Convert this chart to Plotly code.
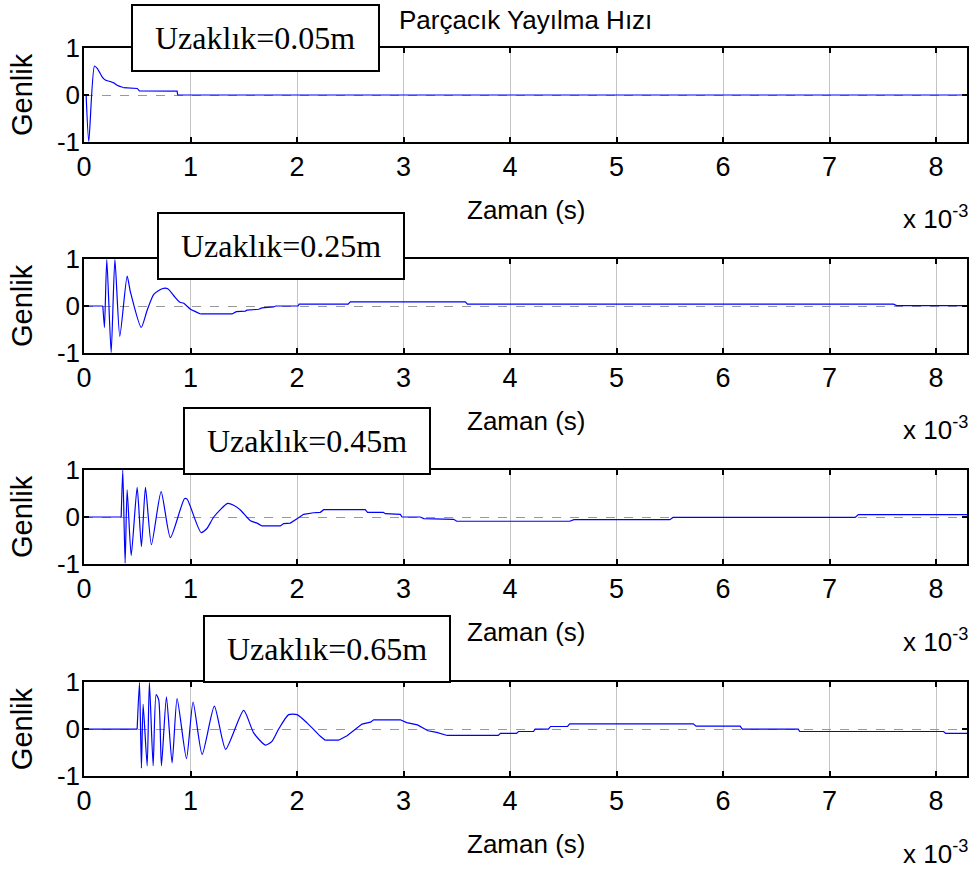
import plotly.graph_objects as go

# ---- data (time in ms, i.e. units of 1e-3 s) ----
labels = ["Uzaklık=0.05m", "Uzaklık=0.25m", "Uzaklık=0.45m", "Uzaklık=0.65m"]

t1 = [0, 0.02, 0.045, 0.098, 0.124, 0.17, 0.2, 0.25, 0.28, 0.31, 0.37, 0.5, 0.52, 0.874, 0.88, 8.29]
a1 = [0, 0, -1.0, 0.62, 0.57, 0.39, 0.32, 0.285, 0.26, 0.21, 0.16, 0.14, 0.09, 0.085, 0, 0]

t2 = [0, 0.177, 0.192, 0.214, 0.255, 0.29, 0.336, 0.405, 0.436, 0.537, 0.593, 0.655, 0.734, 0.786,
      0.843, 0.9, 0.936, 1.0, 1.046, 1.093, 1.39, 1.43, 1.515, 1.53, 1.64, 1.67, 1.78, 1.80, 2.01,
      2.02, 2.48, 2.50, 3.58, 3.60, 7.60, 7.63, 8.29]
a2 = [0, 0, -0.46, 1.0, -1.0, 1.0, -0.65, 0.64, 0.30, -0.46, -0.09, 0.25, 0.37, 0.37,
      0.22, 0.08, 0.06, -0.07, -0.12, -0.17, -0.17, -0.12, -0.11, -0.09, -0.07, -0.04, -0.02, 0.0, 0.0,
      0.04, 0.04, 0.09, 0.09, 0.04, 0.04, 0.01, 0.01]

t3 = [0, 0.349, 0.364, 0.386, 0.405, 0.443, 0.499, 0.539, 0.577, 0.633, 0.724, 0.811, 0.943, 0.968,
      1.099, 1.156, 1.218, 1.349, 1.405, 1.468, 1.562, 1.625, 1.67, 1.843, 1.874, 1.937, 2.0, 2.062,
      2.156, 2.219, 2.25, 2.64, 2.662, 2.81, 2.83, 2.97, 2.985, 3.157, 3.19, 3.47, 3.5, 4.56, 4.6,
      5.50, 5.53, 7.24, 7.27, 8.29]
a3 = [0, 0, 1.0, -0.98, 0.58, -0.82, 0.63, -0.63, 0.63, -0.59, 0.54, -0.44, 0.39, 0.38,
      -0.33, -0.24, 0.0, 0.29, 0.25, 0.15, -0.08, -0.13, -0.19, -0.19, -0.14, -0.13, -0.035, 0.056,
      0.09, 0.1, 0.155, 0.155, 0.1, 0.1, 0.07, 0.056, 0.0, 0.0, -0.035, -0.05, -0.09, -0.09, -0.056,
      -0.056, -0.01, -0.01, 0.05, 0.05]

t4 = [0, 0.499, 0.521, 0.539, 0.555, 0.593, 0.614, 0.649, 0.677, 0.702, 0.727, 0.774, 0.827, 0.874,
      0.962, 1.024, 1.109, 1.224, 1.33, 1.499, 1.593, 1.703, 1.765, 1.827, 1.921, 2.0, 2.094, 2.219,
      2.265, 2.39, 2.47, 2.547, 2.61, 2.69, 2.72, 2.97, 3.03, 3.13, 3.23, 3.31, 3.41, 3.89, 3.91, 4.06,
      4.08, 4.22, 4.235, 4.36, 4.38, 4.54, 4.56, 5.72, 5.746, 6.16, 6.18, 6.705, 6.72, 8.07, 8.09, 8.29]
a4 = [0, 0, 1.0, -0.83, 0.53, -0.78, 1.0, -0.78, 0.74, 0.62, -0.78, 0.69, -0.72, 0.65,
      -0.63, 0.58, -0.54, 0.49, -0.43, 0.4, -0.08, -0.34, -0.26, 0.0, 0.31, 0.31, 0.135, -0.15,
      -0.235, -0.235, -0.14, -0.015, 0.107, 0.15, 0.2, 0.2, 0.14, 0.09, -0.035, -0.07, -0.135, -0.135,
      -0.09, -0.09, -0.05, -0.05, 0.0, 0.0, 0.057, 0.057, 0.114, 0.114, 0.064, 0.064, 0.0, 0.0, -0.05,
      -0.05, -0.09, -0.09]

# index range of the smooth oscillating part of each record (drawn with a spline)
wave_parts = [(1, 10), (1, 19), (1, 22), (1, 28)]

x_ticks = [0, 1, 2, 3, 4, 5, 6, 7, 8]
x_ticktext = ["0", "1", "2", "3", "4", "5", "6", "7", "8"]
y_ticks = [-1, 0, 1]
y_ticktext = ["-1", "0", "1"]
x_range = [0, 8.29]
title_text = "Parçacık Yayılma Hızı"
xlabel = "Zaman (s)"
ylabel = "Genlik"
exp_text = "x 10<sup>-3</sup>"

series = [(t1, a1), (t2, a2), (t3, a3), (t4, a4)]

# ---- layout geometry (pixels) ----
W, H = 973, 874
def px(x): return x / W
def py(y): return 1 - y / H

plot_left, plot_right = 84, 967
plot_rows = [(48.3, 141.7), (259.3, 352.7), (470, 564), (682.3, 776)]
boxes = [(132, 5, 379, 71), (158, 213, 404, 279), (184, 408, 430, 474), (204, 616, 450, 682)]

fig = go.Figure()
layout = dict(width=W, height=H, autosize=False,
              margin=dict(l=0, r=0, t=0, b=0, pad=0, autoexpand=False),
              paper_bgcolor="white", plot_bgcolor="white", showlegend=False)

sans = "Liberation Sans, Arial, sans-serif"
annotations = []
shapes = []
for i, ((t, a), (top, bot)) in enumerate(zip(series, plot_rows)):
    n = "" if i == 0 else str(i + 1)
    ws, we = wave_parts[i]
    pieces = [(t[:ws + 1], a[:ws + 1], "linear"),
              (t[ws:we + 1], a[ws:we + 1], "spline"),
              (t[we:], a[we:], "linear")]
    for xs, ys, shp in pieces:
        line = dict(color="#0000ff", width=1.2, shape=shp)
        if shp == "spline":
            line["smoothing"] = 0.6
        fig.add_trace(go.Scatter(x=xs, y=ys, mode="lines", xaxis="x" + n, yaxis="y" + n,
                                 line=line, hoverinfo="skip"))
    layout["xaxis" + n] = dict(domain=[px(plot_left), px(plot_right)], range=x_range, anchor="y" + n,
                               tickvals=x_ticks, ticktext=x_ticktext, ticks="inside", ticklen=5,
                               tickwidth=1.5, tickcolor="black", mirror="allticks", showline=True,
                               linecolor="black", linewidth=1.5, showgrid=True, gridcolor="#c4c4c4",
                               gridwidth=1, zeroline=False, ticklabelstandoff=0, automargin=False,
                               tickfont=dict(family=sans, size=27, color="black"))
    layout["yaxis" + n] = dict(domain=[py(bot), py(top)], range=[-1, 1], anchor="x" + n,
                               tickvals=y_ticks, ticktext=y_ticktext, ticks="inside", ticklen=5,
                               tickwidth=1.5, tickcolor="black", mirror="allticks", showline=True,
                               linecolor="black", linewidth=1.5, showgrid=True, gridcolor="#999999",
                               griddash="dash", gridwidth=1, zeroline=False, ticklabelstandoff=-3,
                               automargin=False,
                               tickfont=dict(family=sans, size=26, color="black"))
    # axis labels
    annotations.append(dict(x=px((plot_left + plot_right) / 2), y=py(bot + 68), xref="paper", yref="paper",
                            text=xlabel, showarrow=False, xanchor="center", yanchor="middle",
                            font=dict(family=sans, size=26, color="black")))
    annotations.append(dict(x=px(22), y=py((top + bot) / 2), xref="paper", yref="paper",
                            text=ylabel, showarrow=False, textangle=-90, xanchor="center",
                            yanchor="middle", font=dict(family=sans, size=29, color="black")))
    annotations.append(dict(x=px(970), y=py(bot + 76), xref="paper", yref="paper",
                            text=exp_text, showarrow=False, xanchor="right", yanchor="middle",
                            font=dict(family=sans, size=26, color="black")))
    # distance label box
    x0, y0, x1, y1 = boxes[i]
    shapes.append(dict(type="rect", xref="paper", yref="paper", x0=px(x0), x1=px(x1), y0=py(y1), y1=py(y0),
                       line=dict(color="black", width=2), fillcolor="white", layer="above"))
    annotations.append(dict(x=px((x0 + x1) / 2), y=py((y0 + y1) / 2), xref="paper", yref="paper",
                            text=labels[i], showarrow=False, xanchor="center", yanchor="middle",
                            font=dict(family="Liberation Serif, Times New Roman, serif", size=32,
                                      color="black")))

annotations.append(dict(x=px(525), y=py(20), xref="paper", yref="paper", text=title_text,
                        showarrow=False, xanchor="center", yanchor="middle",
                        font=dict(family=sans, size=26, color="black")))

layout["annotations"] = annotations
layout["shapes"] = shapes
fig.update_layout(**layout)
fig.write_html("out.html")
